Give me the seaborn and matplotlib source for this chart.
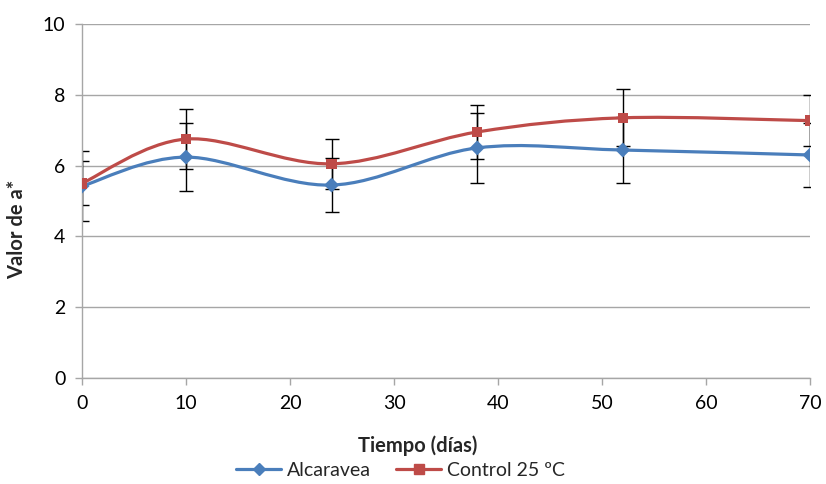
import numpy as np
import pandas as pd
import matplotlib
matplotlib.use("Agg")
import matplotlib.pyplot as plt
from matplotlib.path import Path
from matplotlib.patches import PathPatch
from matplotlib.lines import Line2D
import seaborn as sns

# ---- data ----
dias = [0, 10, 24, 38, 52, 70]
alcaravea = [5.42, 6.24, 5.45, 6.50, 6.44, 6.30]
alcaravea_err = [0.98, 0.96, 0.77, 1.00, 0.94, 0.90]
control = [5.50, 6.75, 6.05, 6.95, 7.35, 7.27]
control_err = [0.62, 0.86, 0.71, 0.77, 0.81, 0.73]
series_names = ["Alcaravea", "Control 25 ºC"]
x_ticks = [0, 10, 20, 30, 40, 50, 60, 70]
y_ticks = [0, 2, 4, 6, 8, 10]

blue = "#4A7EBB"
red = "#BE4B48"

sns.set_theme(style="white")
plt.rcParams["font.family"] = ["Lato", "DejaVu Sans"]

fig = plt.figure(figsize=(8.26, 4.84), dpi=100)
ax = fig.add_axes([82 / 826, 1 - 378 / 484, (810 - 82) / 826, (378 - 24) / 484])

df = pd.DataFrame({
    "dias": dias * 2,
    "valor": alcaravea + control,
    "serie": [series_names[0]] * len(dias) + [series_names[1]] * len(dias),
})


def smooth_path(xs, ys):
    pts = np.column_stack([xs, ys]).astype(float)
    n = len(pts)
    verts = [pts[0]]
    codes = [Path.MOVETO]
    for i in range(n - 1):
        p0 = pts[i - 1] if i > 0 else pts[i]
        p1 = pts[i]
        p2 = pts[i + 1]
        p3 = pts[i + 2] if i + 2 < n else pts[i + 1]
        c1 = p1 + (p2 - p0) / 6.0
        c2 = p2 - (p3 - p1) / 6.0
        verts += [c1, c2, p2]
        codes += [Path.CURVE4] * 3
    return Path(verts, codes)


# error bars
ax.errorbar(dias, alcaravea, yerr=alcaravea_err, fmt="none", ecolor="black",
            elinewidth=1.0, capsize=5, capthick=1.0, zorder=2)
ax.errorbar(dias, control, yerr=control_err, fmt="none", ecolor="black",
            elinewidth=1.0, capsize=5, capthick=1.0, zorder=2)

# smoothed lines
for ys, col in [(alcaravea, blue), (control, red)]:
    ax.add_patch(PathPatch(smooth_path(dias, ys), facecolor="none", edgecolor=col,
                           lw=2.3, zorder=3, capstyle="round", joinstyle="round"))

# markers
sns.scatterplot(data=df, x="dias", y="valor", hue="serie", style="serie",
                palette={series_names[0]: blue, series_names[1]: red},
                markers={series_names[0]: "D", series_names[1]: "s"},
                s=58, linewidth=0, ax=ax, legend=False, zorder=4)

ax.set_xlim(0, 70)
ax.set_ylim(0, 10)
ax.set_xticks(x_ticks)
ax.set_yticks(y_ticks)
ax.yaxis.grid(True, color="#A6A6A6", lw=1.0)
ax.xaxis.grid(False)
for s in ["top", "right"]:
    ax.spines[s].set_visible(False)
for s in ["left", "bottom"]:
    ax.spines[s].set_color("#A6A6A6")
    ax.spines[s].set_linewidth(1.0)
ax.tick_params(axis="both", which="both", direction="out", length=5, width=1.0,
               color="#A6A6A6", labelsize=14, labelcolor="black", left=True, bottom=True)
ax.tick_params(axis="y", pad=7)
ax.tick_params(axis="x", pad=7)

ax.set_xlabel("Tiempo (días)", fontsize=14.5, fontweight="bold")
ax.set_ylabel("Valor de a*", fontsize=14.5, fontweight="bold")
ax.xaxis.set_label_coords(0.461, -0.163)
ax.yaxis.set_label_coords(-0.076, 0.42)

handles = [
    Line2D([], [], color=blue, lw=2.3, marker="D", markersize=6, label=series_names[0]),
    Line2D([], [], color=red, lw=2.3, marker="s", markersize=7, label=series_names[1]),
]
fig.legend(handles=handles, loc="center", bbox_to_anchor=(0.485, 1 - 470 / 484),
           ncol=2, frameon=False, fontsize=14, handlelength=2.3, columnspacing=1.3,
           handletextpad=0.3, borderpad=0)

fig.savefig("out.png", dpi=100)
